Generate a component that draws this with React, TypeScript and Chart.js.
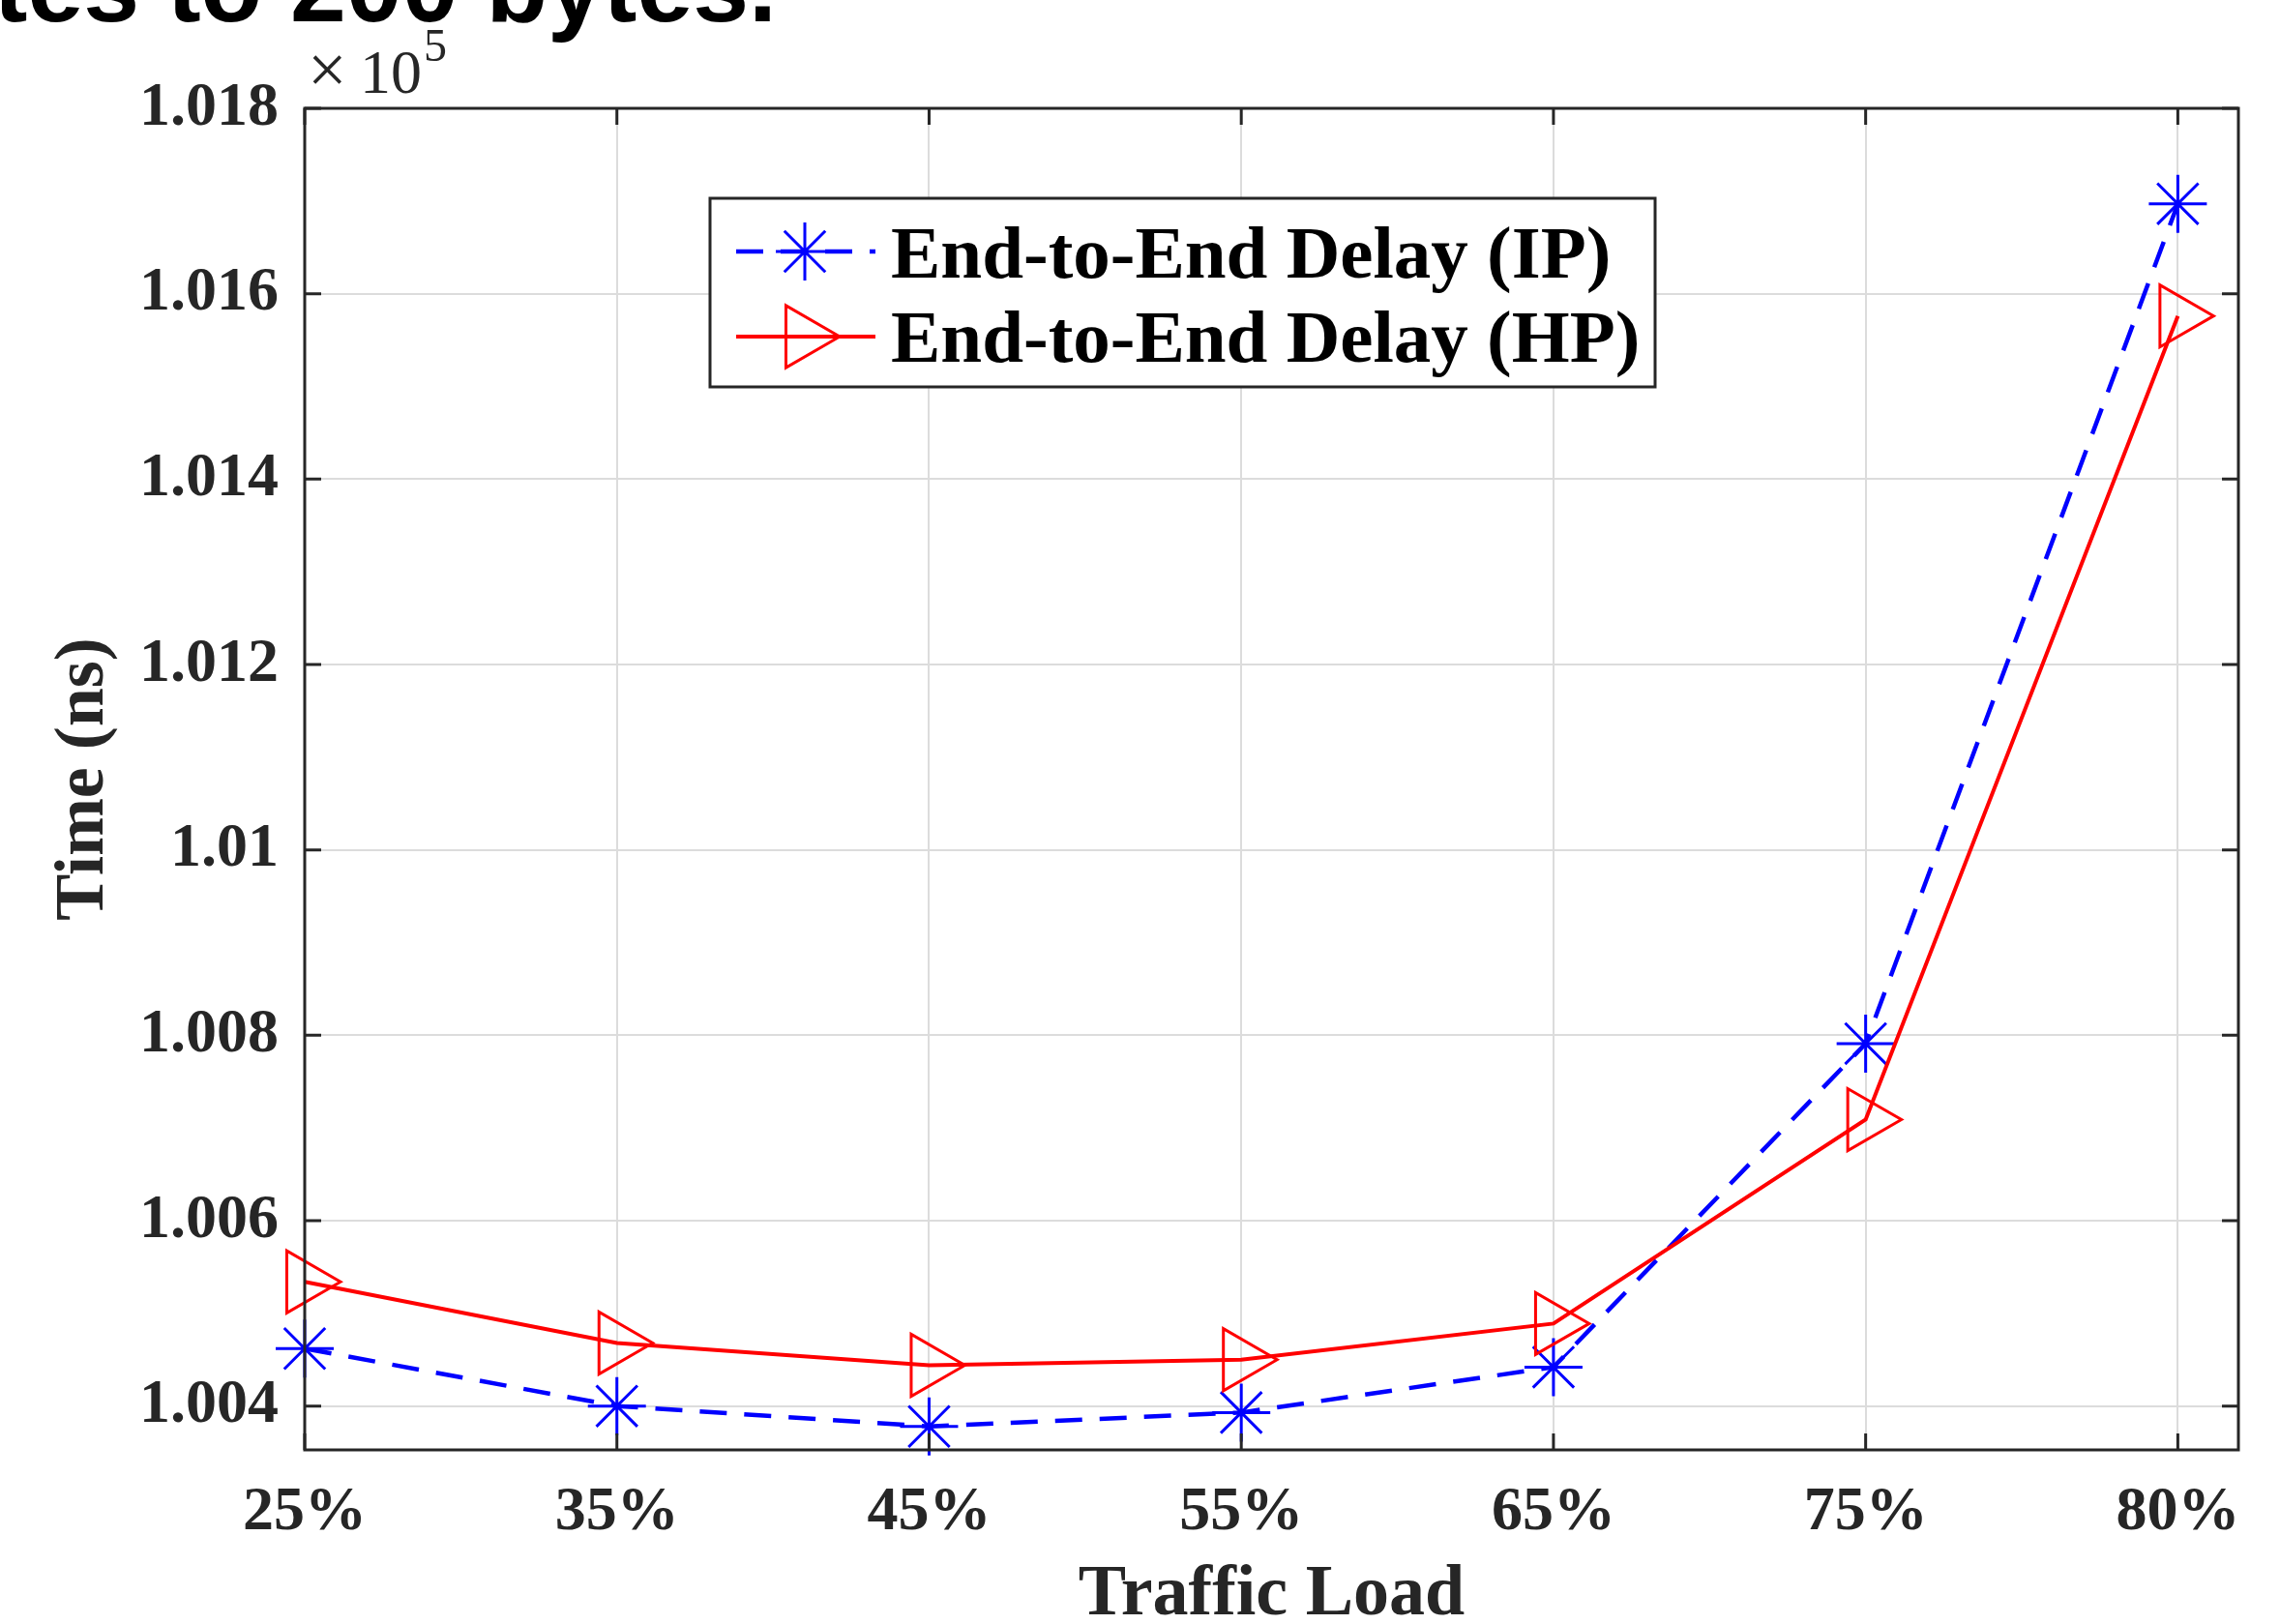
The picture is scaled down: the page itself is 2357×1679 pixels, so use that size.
import React, { useEffect, useRef } from "react";
import { Chart, registerables } from "chart.js";

Chart.register(...registerables);

// ---------- data ----------
const categories = ["25%", "35%", "45%", "55%", "65%", "75%", "80%"];
const delayIP = [100462, 100400, 100378, 100393, 100442, 100791, 101697];
const delayHP = [100534, 100468, 100444, 100450, 100489, 100709, 101576];
const seriesLabels = ["End-to-End Delay (IP)", "End-to-End Delay (HP)"];
const yTickValues = [100400, 100600, 100800, 101000, 101200, 101400, 101600, 101800];
const yTickLabels = ["1.004", "1.006", "1.008", "1.01", "1.012", "1.014", "1.016", "1.018"];
const yAxisTitle = "Time (ns)";
const xAxisTitle = "Traffic Load";
const exponentTimes = "\u00d7";
const exponentBase = "10";
const exponentPower = "5";
const headerText = "tes to 200 bytes.";

const Y_MIN = 100352.7;
const Y_MAX = 101800;
const X_MAX = 6.194;

const SERIF = '"Liberation Serif", "Times New Roman", serif';
const SANS = '"Liberation Sans", Arial, sans-serif';
const AXIS_COLOR = "#262626";
const BLUE = "#0000ff";
const RED = "#ff0000";
const DASH = [28, 18];

function drawStar(ctx: CanvasRenderingContext2D, x: number, y: number, r: number) {
  ctx.beginPath();
  ctx.moveTo(x - r, y);
  ctx.lineTo(x + r, y);
  ctx.moveTo(x, y - r);
  ctx.lineTo(x, y + r);
  const d = r * Math.SQRT1_2;
  ctx.moveTo(x - d, y - d);
  ctx.lineTo(x + d, y + d);
  ctx.moveTo(x - d, y + d);
  ctx.lineTo(x + d, y - d);
  ctx.stroke();
}

function drawTriangleRight(ctx: CanvasRenderingContext2D, x: number, y: number, r: number) {
  ctx.beginPath();
  ctx.moveTo(x + r, y);
  ctx.lineTo(x - 0.5 * r, y + 0.866 * r);
  ctx.lineTo(x - 0.5 * r, y - 0.866 * r);
  ctx.closePath();
  ctx.stroke();
}

const framePlugin = {
  id: "matlabFrame",
  afterDatasetsDraw(chart: any) {
    const { ctx, chartArea } = chart;
    const { left, right, top, bottom } = chartArea;
    const xs = chart.scales.x;
    const ys = chart.scales.y;
    ctx.save();
    ctx.strokeStyle = AXIS_COLOR;
    ctx.lineWidth = 3;
    ctx.lineCap = "butt";
    const tl = 17;
    ctx.beginPath();
    yTickValues.forEach((v) => {
      const py = ys.getPixelForValue(v);
      ctx.moveTo(left, py);
      ctx.lineTo(left + tl, py);
      ctx.moveTo(right, py);
      ctx.lineTo(right - tl, py);
    });
    categories.forEach((_, i) => {
      const px = xs.getPixelForValue(i);
      ctx.moveTo(px, bottom);
      ctx.lineTo(px, bottom - tl);
      ctx.moveTo(px, top);
      ctx.lineTo(px, top + tl);
    });
    ctx.stroke();
    ctx.strokeRect(left, top, right - left, bottom - top);
    ctx.restore();
  },
  afterDraw(chart: any) {
    const { ctx } = chart;
    ctx.save();
    // legend box
    const bx = 734, by = 205, bw = 977, bh = 195;
    ctx.fillStyle = "#ffffff";
    ctx.fillRect(bx, by, bw, bh);
    ctx.strokeStyle = AXIS_COLOR;
    ctx.lineWidth = 3;
    ctx.strokeRect(bx, by, bw, bh);

    const rows = [260, 348];
    ctx.strokeStyle = BLUE;
    ctx.lineWidth = 4.5;
    ctx.setLineDash(DASH);
    ctx.beginPath();
    ctx.moveTo(761, rows[0]);
    ctx.lineTo(905, rows[0]);
    ctx.stroke();
    ctx.setLineDash([]);
    ctx.lineWidth = 3;
    drawStar(ctx, 832, rows[0], 30);

    ctx.strokeStyle = RED;
    ctx.lineWidth = 4;
    ctx.beginPath();
    ctx.moveTo(761, rows[1]);
    ctx.lineTo(905, rows[1]);
    ctx.stroke();
    ctx.lineWidth = 3;
    drawTriangleRight(ctx, 831, rows[1], 37);

    ctx.fillStyle = "#000000";
    ctx.font = `bold 77px ${SERIF}`;
    ctx.textBaseline = "alphabetic";
    ctx.textAlign = "left";
    ctx.fillText(seriesLabels[0], 921, 287);
    ctx.fillText(seriesLabels[1], 921, 374);

    // exponent label
    ctx.fillStyle = AXIS_COLOR;
    ctx.font = `72px ${SERIF}`;
    ctx.fillText(exponentTimes, 318, 96);
    ctx.font = `64px ${SERIF}`;
    ctx.fillText(exponentBase, 372, 96);
    ctx.font = `48px ${SERIF}`;
    ctx.fillText(exponentPower, 438, 63);

    // cut-off header text
    ctx.fillStyle = "#000000";
    ctx.font = `bold 104px ${SANS}`;
    ctx.textAlign = "right";
    ctx.fillText(headerText, 803, 22);
    ctx.restore();
  },
};

export default function App() {
  const canvasRef = useRef<HTMLCanvasElement | null>(null);

  useEffect(() => {
    const canvas = canvasRef.current;
    if (!canvas) return;
    const ipPoints = delayIP.map((v, i) => ({ x: i, y: v }));
    const hpPoints = delayHP.map((v, i) => ({ x: i, y: v }));
    const chart = new Chart(canvas, {
      type: "line",
      data: {
        datasets: [
          {
            label: seriesLabels[0],
            data: ipPoints,
            borderColor: BLUE,
            backgroundColor: BLUE,
            borderWidth: 4.5,
            borderDash: DASH,
            pointStyle: "star",
            pointRadius: 30,
            pointBorderWidth: 3,
            pointBorderColor: BLUE,
            pointBackgroundColor: BLUE,
            tension: 0,
            fill: false,
            clip: false,
            order: 1,
          } as any,
          {
            label: seriesLabels[1],
            data: hpPoints,
            borderColor: RED,
            backgroundColor: "rgba(0,0,0,0)",
            borderWidth: 4,
            pointStyle: "triangle",
            pointRotation: 90,
            pointRadius: 37,
            pointBorderWidth: 3,
            pointBorderColor: RED,
            pointBackgroundColor: "rgba(0,0,0,0)",
            tension: 0,
            fill: false,
            clip: false,
            order: 0,
          } as any,
        ],
      },
      options: {
        responsive: false,
        animation: false,
        devicePixelRatio: 1,
        layout: { padding: { top: 112, right: 43, left: 0, bottom: 0 } },
        plugins: {
          legend: { display: false },
          tooltip: { enabled: false },
          title: { display: false },
        },
        scales: {
          x: {
            type: "linear",
            min: 0,
            max: X_MAX,
            afterBuildTicks: (scale: any) => {
              scale.ticks = categories.map((_, i) => ({ value: i }));
            },
            afterFit: (scale: any) => {
              scale.height = 180;
            },
            ticks: {
              autoSkip: false,
              maxRotation: 0,
              minRotation: 0,
              padding: 27,
              color: AXIS_COLOR,
              font: { family: SERIF, size: 64, weight: "bold", lineHeight: 1.2 },
              callback: (v: any) => categories[Math.round(Number(v))] ?? "",
            },
            grid: { color: "#dcdcdc", lineWidth: 2, drawTicks: false },
            border: { display: false },
            title: {
              display: true,
              text: xAxisTitle,
              color: AXIS_COLOR,
              font: { family: SERIF, size: 74, weight: "bold", lineHeight: 0.78 },
              padding: { top: 0, bottom: 0 },
            },
          },
          y: {
            type: "linear",
            min: Y_MIN,
            max: Y_MAX,
            afterBuildTicks: (scale: any) => {
              scale.ticks = yTickValues.map((v) => ({ value: v }));
            },
            afterFit: (scale: any) => {
              scale.width = 315;
            },
            ticks: {
              autoSkip: false,
              padding: 27,
              color: AXIS_COLOR,
              font: { family: SERIF, size: 64, weight: "bold", lineHeight: 1.2 },
              callback: (v: any) => {
                const idx = yTickValues.indexOf(Number(v));
                return idx >= 0 ? yTickLabels[idx] : "";
              },
            },
            grid: { color: "#dcdcdc", lineWidth: 2, drawTicks: false },
            border: { display: false },
            title: {
              display: true,
              text: yAxisTitle,
              color: AXIS_COLOR,
              font: { family: SERIF, size: 72, weight: "bold", lineHeight: 1 },
              padding: { top: 51, bottom: 0 },
            },
          },
        },
      },
      plugins: [framePlugin],
    });
    return () => chart.destroy();
  }, []);

  return (
    <div
      style={{
        position: "fixed",
        left: 0,
        top: 0,
        width: 2357,
        height: 1679,
        background: "#ffffff",
        overflow: "hidden",
      }}
    >
      <canvas ref={canvasRef} width={2357} height={1679} style={{ display: "block" }} />
    </div>
  );
}
